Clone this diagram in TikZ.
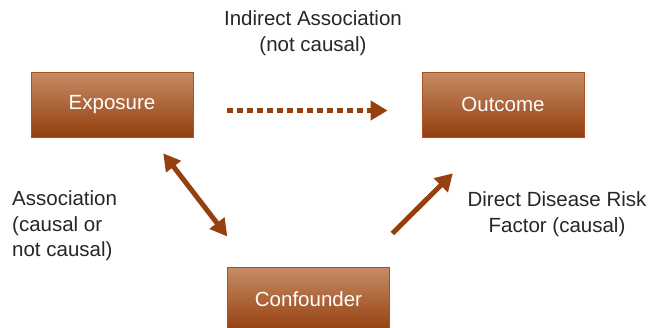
\documentclass[tikz,border=0pt]{standalone}
\usepackage{fontspec}
\setmainfont{Liberation Sans}
\usetikzlibrary{arrows.meta}
\begin{document}
\begin{tikzpicture}[x=1pt, y=-1pt,
    box/.style={rectangle, draw=boxBorder, line width=0.8pt, top color=boxTop, bottom color=boxBottom,
        minimum width=162pt, minimum height=65pt, inner sep=0pt, text=white,
        font=\fontsize{20.5}{25}\selectfont},
    lbl/.style={inner sep=0pt, text=textGrey, font=\fontsize{20.5}{25.5}\selectfont},
    link/.style={draw=arrowColour, line width=5pt, -{Triangle[length=17pt,width=19pt]}}]

    \definecolor{boxTop}{RGB}{198,140,102}
    \definecolor{boxBottom}{RGB}{148,62,14}
    \definecolor{boxBorder}{RGB}{170,80,30}
    \definecolor{arrowColour}{RGB}{150,64,16}
    \definecolor{textGrey}{RGB}{38,38,38}

    % Frame
    \useasboundingbox (0,0) rectangle (652,327);
    \clip (0,0) rectangle (652,327);

    % Boxes
    \node[box] (exposure) at (112,104.5) {Exposure};
    \node[box] (outcome) at (503,104.5) {Outcome};
    \node[box] (confounder) at (308.5,299.5) {Confounder};

    % Labels
    \node[lbl, align=center] (indirect) at (313,33) {Indirect Association\\(not causal)};
    \node[lbl, align=left, anchor=west] (assoc) at (12,226) {Association\\(causal or\\not causal)};
    \node[lbl, align=center] (direct) at (557,214) {Direct Disease Risk\\Factor (causal)};

    % Arrows
    \draw[link, line cap=butt, dash pattern=on 6pt off 4pt, shorten <=34pt, shorten >=34pt]
        ([yshift=-6pt]exposure.east) -- ([yshift=-6pt]outcome.west);
    \draw[link, {Triangle[length=17pt,width=18pt]}-{Triangle[length=17pt,width=18pt]}, shorten <=20pt, shorten >=38pt]
        ([xshift=39pt]exposure.south) -- ([xshift=-58pt]confounder.north);
    \draw[link, shorten <=47pt, shorten >=51pt]
        ([xshift=50.5pt]confounder.north) -- ([xshift=-14pt]outcome.south);

\end{tikzpicture}
\end{document}
